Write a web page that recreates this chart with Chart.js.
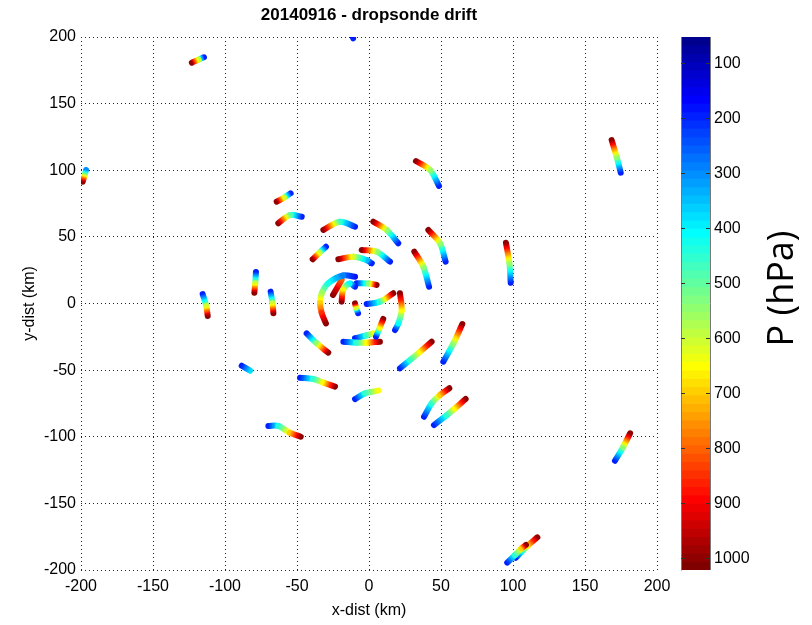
<!DOCTYPE html>
<html>
<head>
<meta charset="utf-8">
<script src="https://cdn.jsdelivr.net/npm/chart.js@4.4.0/dist/chart.umd.min.js"></script>
<style>
html, body { margin: 0; padding: 0; background: #fff; }
#wrap { position: relative; width: 812px; height: 625px; }
#main { position: absolute; left: 0; top: 0; }
#cbar { position: absolute; left: 681px; top: 0; }
</style>
</head>
<body>
<div id="wrap">
  <canvas id="main" width="812" height="625"></canvas>
  <canvas id="cbar" width="131" height="625"></canvas>
</div>
<script>
// one row per dropsonde, from release (low P) to splash (high P)
const sondeX = [
  [-114.6, -118.5, -123.0],
  [-12.0, -11.0],
  [48.6, 42.4, 32.6],
  [174.8, 172.0, 168.5],
  [53.2, 49.3, 41.2],
  [41.7, 37.7, 31.5],
  [98.4, 97.5, 95.1],
  [-196.5, -198.8],
  [-115.5, -113.0, -112.0],
  [-78.5, -79.0, -79.6],
  [-54.4, -59.0, -64.1],
  [-46.7, -54.9, -63.0],
  [-9.7, -20.1, -31.7],
  [20.3, 12.3, 3.0],
  [-29.9, -34.5, -39.1],
  [-68.3, -67.0, -66.4],
  [-43.3, -36.3, -28.3],
  [4.9, 7.5, 9.9],
  [-17.8, -8.6, -1.6, 7.6],
  [-9.7, -2.0, 3.0],
  [21.5, 28.5, 35.4, 43.5],
  [51.6, 58.6, 64.8],
  [-47.9, -38.7, -31.7, -23.6],
  [-9.7, -2.8, 6.5],
  [38.2, 43.5, 49.3, 55.8],
  [45.1, 54.0, 59.7, 67.1],
  [-88.4, -82.6],
  [-69.9, -63.0, -54.9, -47.4],
  [170.8, 176.6, 181.3],
  [96.0, 101.4, 106.0, 109.0],
  [102.0, 110.0, 116.9],
  [-9.7, -18.0, -28.3, -32.8, -34.0, -32.8, -29.9],
  [-9.7, -13.5, -18.0, -19.0],
  [-1.6, 7.6, 16.9],
  [18.1, 20.4, 22.7, 21.5],
  [14.6, 5.3, -5.1],
  [1.9, -1.6, -10.9, -21.3],
  [-19.0, -25.0],
  [-8.6, 0.0, 5.3],
  [-7.6, -9.0, -9.7]
];
const sondeY = [
  [184.8, 183.0, 180.7],
  [203.0, 199.0],
  [88.2, 100.2, 106.9],
  [98.2, 110.0, 122.7],
  [31.4, 45.2, 55.2],
  [12.6, 27.6, 38.9],
  [15.6, 30.2, 45.6],
  [100.2, 91.4],
  [7.1, -2.0, -9.4],
  [23.6, 15.0, 8.1],
  [82.7, 79.5, 76.4],
  [65.1, 66.4, 60.2],
  [57.6, 61.4, 55.2],
  [45.2, 55.2, 61.4],
  [42.6, 38.0, 33.2],
  [8.9, 0.0, -7.4],
  [-22.4, -29.9, -36.9],
  [-24.9, -18.0, -11.6],
  [-28.7, -29.4, -29.4, -28.7],
  [-26.1, -24.0, -22.4],
  [-48.6, -42.4, -36.2, -28.7],
  [-43.7, -29.9, -15.4],
  [-55.7, -56.7, -59.4, -62.4],
  [-71.7, -67.4, -65.4],
  [-85.0, -74.9, -68.7, -63.6],
  [-91.2, -83.7, -78.7, -71.7],
  [-46.7, -50.4],
  [-91.9, -91.9, -97.0, -100.0],
  [-118.0, -107.5, -97.4],
  [-194.5, -188.7, -183.7, -181.2],
  [-190.8, -182.0, -175.5],
  [20.1, 21.0, 15.2, 7.7, 0.2, -7.3, -14.9],
  [12.6, 14.9, 10.0, 1.4],
  [-0.4, 1.4, 7.7],
  [-19.9, -14.9, -4.9, 7.7],
  [31.4, 38.9, 40.2],
  [30.2, 32.6, 35.1, 33.2],
  [17.6, 6.4],
  [15.2, 15.0, 13.9],
  [-7.3, -3.0, 0.1]
];
const sondeP = [
  [200, 600, 1000],
  [100, 200],
  [200, 550, 1000],
  [200, 550, 1000],
  [200, 550, 1000],
  [200, 550, 1000],
  [200, 550, 1000],
  [300, 1000],
  [200, 600, 1000],
  [200, 600, 1000],
  [200, 600, 1000],
  [200, 500, 1000],
  [200, 450, 1000],
  [200, 550, 1000],
  [200, 600, 1000],
  [200, 600, 1000],
  [200, 550, 1000],
  [200, 650, 1000],
  [200, 450, 650, 1000],
  [200, 450, 650],
  [200, 450, 650, 1000],
  [200, 550, 1000],
  [200, 450, 650, 1000],
  [200, 450, 650],
  [200, 450, 700, 1000],
  [200, 450, 650, 1000],
  [200, 380],
  [200, 430, 700, 1000],
  [200, 550, 1000],
  [200, 450, 700, 1000],
  [200, 650, 1000],
  [180, 280, 420, 560, 700, 850, 1000],
  [200, 400, 650, 1000],
  [200, 450, 1000],
  [200, 400, 650, 1000],
  [200, 550, 1000],
  [200, 350, 600, 1000],
  [800, 1000],
  [200, 550, 1000],
  [200, 600, 1000]
];
const axisTicks = [-200, -150, -100, -50, 0, 50, 100, 150, 200];
const pTicks = [100, 200, 300, 400, 500, 600, 700, 800, 900, 1000];
const pMin = 51, pMax = 1020;

const FONT = '"Liberation Sans", Arial, sans-serif';
Chart.defaults.color = '#000';
Chart.defaults.font.family = FONT;

// matlab jet(64)
function jetIdx(k) {
  let r, g, b;
  if (k < 8) { r = 0; g = 0; b = 0.5625 + k * 0.0625; }
  else if (k < 24) { r = 0; g = (k - 7) * 0.0625; b = 1; }
  else if (k < 40) { r = (k - 23) * 0.0625; g = 1; b = 1 - (k - 23) * 0.0625; }
  else if (k < 56) { r = 1; g = 1 - (k - 39) * 0.0625; b = 0; }
  else { r = 1 - (k - 55) * 0.0625; g = 0; b = 0; }
  return 'rgb(' + Math.round(r * 255) + ',' + Math.round(g * 255) + ',' + Math.round(b * 255) + ')';
}
function jetP(p) {
  let k = Math.floor((p - pMin) / (pMax - pMin) * 64);
  return jetIdx(Math.max(0, Math.min(63, k)));
}

function segColor(c, i) {
  const P = sondeP[i];
  const a = P[c.p0DataIndex], b = P[c.p1DataIndex];
  const g = c.chart.ctx.createLinearGradient(c.p0.x, c.p0.y, c.p1.x, c.p1.y);
  for (let s = 0; s <= 12; s++) {
    g.addColorStop(s / 12, jetP(a + (b - a) * s / 12));
  }
  return g;
}

const tracks = sondeX.map((xs, i) => ({
  data: xs.map((x, j) => ({ x: x, y: sondeY[i][j] })),
  showLine: true,
  borderWidth: 6,
  borderColor: jetP(sondeP[i][0]),
  borderCapStyle: 'round',
  borderJoinStyle: 'round',
  tension: 0.35,
  pointRadius: 0,
  segment: { borderColor: c => segColor(c, i) }
}));

new Chart(document.getElementById('main'), {
  type: 'scatter',
  data: { datasets: tracks },
  options: {
    responsive: false,
    animation: false,
    layout: { padding: { left: 0, right: 155, top: 0, bottom: 0 } },
    plugins: {
      legend: { display: false },
      tooltip: { enabled: false },
      title: {
        display: true,
        fullSize: false,
        text: '20140916 - dropsonde drift',
        font: { size: 17, weight: 'bold' },
        padding: { top: 5, bottom: 11.6 }
      }
    },
    scales: {
      x: {
        type: 'linear', min: -200, max: 200,
        afterBuildTicks: s => { s.ticks = axisTicks.map(v => ({ value: v })); },
        ticks: { font: { size: 16 }, padding: 7, maxRotation: 0, callback: v => String(v) },
        grid: { color: '#222', drawTicks: false },
        border: { display: false, dash: [1, 3] },
        title: { display: true, text: 'x-dist (km)', font: { size: 16 }, padding: { top: 0, bottom: 5 } },
        afterFit: s => { s.height = 55; }
      },
      y: {
        type: 'linear', min: -200, max: 200,
        afterBuildTicks: s => { s.ticks = axisTicks.map(v => ({ value: v })); },
        ticks: { font: { size: 16 }, padding: 5, callback: v => String(v) },
        grid: { color: '#222', drawTicks: false },
        border: { display: false, dash: [1, 3] },
        title: { display: true, text: 'y-dist (km)', font: { size: 16 }, padding: { top: 20, bottom: 0 } },
        afterFit: s => { s.width = 81; }
      }
    }
  }
});

// colour bar
const levels = [];
for (let k = 0; k < 64; k++) levels.push(k);
const step = (pMax - pMin) / 64;

const cbTitle = {
  id: 'cbTitle',
  afterDraw(chart) {
    const { ctx, chartArea } = chart;
    ctx.save();
    ctx.translate(102, (chartArea.top + chartArea.bottom) / 2 - 15);
    ctx.rotate(-Math.PI / 2);
    ctx.font = '36px "Open Sans", sans-serif';
    ctx.fillStyle = '#000';
    ctx.textAlign = 'center';
    ctx.textBaseline = 'middle';
    ctx.fillText('P (hPa)', 0, 0);
    ctx.restore();
  }
};

new Chart(document.getElementById('cbar'), {
  type: 'bar',
  data: {
    labels: [''],
    datasets: levels.map(k => ({
      data: [[pMin + k * step, pMin + (k + 1) * step]],
      backgroundColor: jetIdx(k),
      borderWidth: 0,
      barPercentage: 1,
      categoryPercentage: 1,
      grouped: false
    }))
  },
  options: {
    responsive: false,
    animation: false,
    layout: { padding: { left: 0, right: 0, top: 37, bottom: 0 } },
    plugins: { legend: { display: false }, tooltip: { enabled: false } },
    scales: {
      x: {
        position: 'bottom',
        grid: { display: true, offset: true, drawTicks: false, color: '#777', z: 1 },
        ticks: { display: false },
        border: { display: false },
        afterFit: s => { s.height = 55; }
      },
      y: {
        type: 'linear', position: 'right', min: pMin, max: pMax, reverse: true,
        afterBuildTicks: s => { s.ticks = pTicks.map(v => ({ value: v })); },
        ticks: { font: { size: 16 }, padding: 4, callback: v => String(v) },
        grid: { color: '#333', drawTicks: false, z: 1 },
        border: { display: true, color: '#777', dash: [4, 21] },
        afterFit: s => { s.width = 102; }
      }
    }
  },
  plugins: [cbTitle]
});
</script>
</body>
</html>
